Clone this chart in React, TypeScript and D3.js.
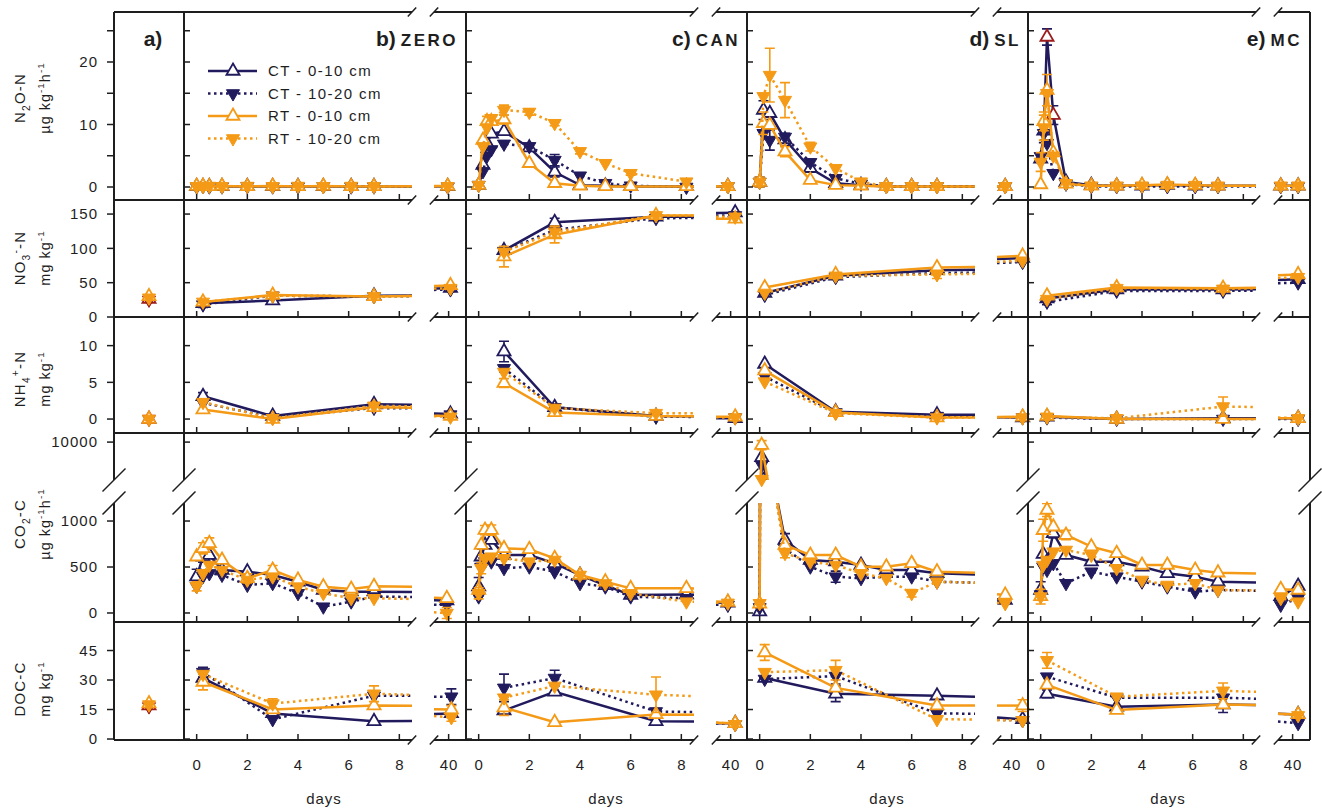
import { useRef, useEffect } from 'react';
import * as d3 from 'd3';

const NAVY = '#211b5e';
const ORANGE = '#f49a16';
const DARK_RED = '#9c1d1d';
const INK = '#1e1e1e';
const FONT = '"Liberation Sans", Arial, Helvetica, sans-serif';

const SERIES = ['CT - 0-10 cm', 'CT - 10-20 cm', 'RT - 0-10 cm', 'RT - 10-20 cm'];
const SERIES_COLOR = [NAVY, NAVY, ORANGE, ORANGE];
const SERIES_OPEN = [true, false, true, false];

const PANEL_NAMES = ['ZERO', 'CAN', 'SL', 'MC'];
const PANEL_LETTERS = ['b)', 'c)', 'd)', 'e)'];
const X_TICKS = [0, 2, 4, 6, 8];
const X_TICKS_LATE = [40];

// ---- N2O-N (µg kg-1 h-1) ----
const N2O_TICKS = [0, 5, 10, 15, 20, 25];
const N2O_LABELS = [0, 10, 20];
const N2O_ZERO_DAYS = [0, 0.25, 0.5, 1, 2, 3, 4, 5, 6.1, 7, 39.9];
const N2O_ZERO = [
  [0.1, 0.1, 0.1, 0.1, 0.1, 0.1, 0.1, 0.1, 0.1, 0.1, 0.1],
  [0.05, 0.1, 0.05, 0.05, 0.1, 0.05, 0.05, 0.1, 0.05, 0.05, 0.05],
  [0.15, 0.15, 0.1, 0.15, 0.1, 0.15, 0.1, 0.15, 0.1, 0.1, 0.15],
  [0.1, 0.1, 0.15, 0.1, 0.15, 0.1, 0.15, 0.1, 0.15, 0.1, 0.1],
];
const N2O_ZERO_ERR = [];
const N2O_CAN_DAYS = [0, 0.17, 0.33, 0.5, 1, 2, 3, 4, 5, 6, 8.2, 39.7];
const N2O_CAN = [
  [0.3, 3.5, 7.0, 8.5, 8.9, 6.3, 2.4, 0.3, 0.2, 0.1, 0.1, 0.1],
  [0.3, 2.5, 5.0, 6.0, 6.9, 6.5, 4.3, 1.8, 0.6, 0.2, 0.0, 0.1],
  [0.3, 7.5, 10.5, 10.5, 10.8, 3.8, 0.6, 0.2, 0.1, 0.1, 0.1, 0.1],
  [0.3, 6.5, 9.5, 11.0, 12.3, 12.0, 10.2, 5.7, 3.8, 2.2, 0.85, 0.1],
];
const N2O_CAN_ERR = [[0, 6, 0.8], [1, 6, 0.9], [2, 2, 0.8], [2, 4, 0.7], [3, 4, 0.8], [3, 5, 0.5], [3, 6, 0.4], [3, 7, 0.4], [3, 9, 0.3]];
const N2O_SL_DAYS = [0, 0.15, 0.4, 1, 2, 3, 4, 5, 6, 7, 39.3];
const N2O_SL = [
  [0.8, 12.3, 11.8, 7.6, 3.0, 0.6, 0.3, 0.1, 0.1, 0.1, 0.1],
  [0.8, 8.6, 7.5, 8.0, 3.95, 1.4, 0.5, 0.1, 0.1, 0.1, 0.1],
  [0.8, 10.2, 9.9, 5.65, 1.1, 0.3, 0.2, 0.1, 0.1, 0.1, 0.1],
  [0.8, 14.5, 17.9, 13.9, 6.45, 3.0, 0.85, 0.1, 0.1, 0.1, 0.1],
];
const N2O_SL_ERR = [[0, 1, 1.5], [0, 3, 1.0], [1, 2, 1.6], [2, 1, 1.8], [2, 3, 0.8], [3, 2, 4.3], [3, 3, 2.8], [3, 4, 0.7], [0, 0, 0.8], [2, 0, 0.8]];
const N2O_MC_DAYS = [0, 0.125, 0.25, 0.5, 1, 2, 3, 4, 5, 6.1, 7, 38.7, 40.6];
const N2O_MC = [
  [4.5, 9.0, 24.0, 11.5, 0.8, 0.3, 0.2, 0.2, 0.3, 0.2, 0.2, 0.2, 0.2],
  [4.9, 8.6, 7.0, 2.2, 0.5, 0.1, 0.1, 0.1, 0.1, 0.1, 0.1, 0.1, 0.1],
  [0.4, 10.5, 15.5, 5.5, 0.5, 0.2, 0.2, 0.3, 0.4, 0.3, 0.2, 0.2, 0.2],
  [4.0, 9.5, 15.0, 5.0, 0.6, 0.2, 0.2, 0.2, 0.3, 0.3, 0.2, 0.2, 0.2],
];
const N2O_MC_ERR = [[0, 2, 1.3], [0, 3, 1.5], [1, 1, 1.5], [2, 1, 1.5], [2, 2, 2.5], [3, 1, 2.0], [3, 0, 1.5]];
const N2O_MC_RED = [2, 3]; // CT 0-10 cm points drawn in dark red

// ---- NO3- -N (mg kg-1) ----
const NO3_TICKS = [0, 50, 100, 150];
const NO3_ZERO_DAYS = [0.25, 3, 7, 40.2];
const NO3_ZERO = [[20, 24, 31, 42], [18, 31, 30, 40], [22, 32, 30, 46], [22, 31, 30, 42]];
const NO3_ZERO_ERR = [[1, 0, 4]];
const NO3_CAN_DAYS = [1, 3, 7, 40.5];
const NO3_CAN = [[97, 138, 146, 152], [96, 127, 144, 148], [88, 120, 148, 143], [95, 124, 148, 146]];
const NO3_CAN_ERR = [[2, 0, 15], [2, 1, 12], [0, 1, 6], [3, 1, 8]];
const NO3_SL_DAYS = [0.2, 3, 7, 41.2];
const NO3_SL = [[35, 60, 68, 86], [32, 58, 64, 80], [43, 62, 72, 89], [35, 60, 62, 82]];
const NO3_SL_ERR = [[3, 2, 6]];
const NO3_MC_DAYS = [0.25, 3, 7.2, 40.6];
const NO3_MC = [[27, 40, 40, 55], [22, 38, 38, 50], [31, 43, 42, 62], [26, 42, 41, 58]];
const NO3_MC_ERR = [[1, 0, 4]];

// ---- NH4+ -N (mg kg-1) ----
const NH4_TICKS = [0, 5, 10];
const NH4_ZERO = [[3.1, 0.4, 2.0, 0.7], [2.2, 0.2, 1.5, 0.6], [1.3, 0.0, 1.6, 0.4], [2.3, 0.1, 1.8, 0.3]];
const NH4_ZERO_ERR = [[0, 0, 0.5]];
const NH4_CAN = [[9.2, 1.6, 0.4, 0.1], [6.9, 1.6, 0.3, 0.2], [4.9, 0.9, 0.4, 0.3], [6.4, 1.5, 0.8, 0.2]];
const NH4_CAN_ERR = [[0, 0, 1.4], [2, 0, 0.6], [1, 0, 0.5]];
const NH4_SL = [[7.5, 1.0, 0.6, 0.2], [5.8, 0.9, 0.4, 0.2], [6.6, 0.9, 0.2, 0.3], [5.1, 0.8, 0.2, 0.2]];
const NH4_SL_ERR = [];
const NH4_MC = [[0.3, 0.0, 0.1, 0.1], [0.2, 0.0, 0.0, 0.0], [0.4, 0.0, 0.0, 0.1], [0.3, 0.1, 1.7, 0.1]];
const NH4_MC_ERR = [[3, 2, 1.3]];

// ---- CO2-C (µg kg-1 h-1), broken axis ----
const CO2_TICKS_LOW = [0, 500, 1000];
const CO2_TICKS_HIGH = [10000];
const CO2_ZERO_DAYS = [0, 0.25, 0.5, 1, 2, 3, 4, 5, 6.1, 7, 39.8];
const CO2_ZERO = [
  [395, 612, 630, 467, 449, 413, 340, 250, 232, 232, 135],
  [290, 400, 430, 413, 304, 323, 214, 68, 123, 178, 87],
  [612, 703, 757, 576, 377, 467, 359, 286, 261, 290, 160],
  [290, 431, 522, 467, 359, 395, 286, 214, 160, 160, 0],
];
const CO2_ZERO_ERR = [[2, 2, 60], [2, 1, 60], [0, 0, 80], [3, 0, 50], [2, 4, 50], [2, 5, 50], [3, 10, 60], [0, 1, 60]];
const CO2_CAN_DAYS = [0, 0.1, 0.25, 0.5, 1, 2, 3, 4, 5, 6, 8.2, 39.7];
const CO2_CAN = [
  [286, 612, 739, 793, 630, 630, 540, 413, 300, 196, 200, 110],
  [178, 500, 560, 558, 486, 503, 449, 323, 286, 178, 160, 87],
  [250, 739, 902, 902, 703, 692, 595, 413, 340, 268, 268, 120],
  [214, 486, 595, 612, 595, 558, 576, 413, 320, 214, 123, 110],
];
const CO2_CAN_ERR = [[2, 3, 55], [2, 2, 50], [0, 0, 100], [3, 0, 60], [3, 1, 60]];
const CO2_SL_DAYS = [0, 0.08, 0.5, 1, 2, 3, 4, 5, 6, 7, 39.3];
const CO2_SL = [
  [14, 8000, 1500, 793, 576, 558, 522, 467, 467, 431, 141],
  [60, 7000, 1500, 700, 503, 395, 377, 395, 395, 340, 120],
  [100, 9600, 1500, 739, 630, 630, 503, 503, 540, 449, 196],
  [105, 5100, 1500, 650, 558, 522, 431, 377, 214, 340, 105],
];
const CO2_SL_ERR = [[2, 1, 600], [0, 3, 70], [1, 5, 60], [3, 3, 50], [3, 8, 40]];
const CO2_MC_DAYS = [0, 0.1, 0.25, 0.5, 1, 2, 3, 4, 5, 6.1, 7, 38.7, 40.6];
const CO2_MC = [
  [250, 640, 560, 866, 630, 558, 558, 503, 431, 395, 340, 180, 293],
  [200, 503, 467, 540, 323, 449, 395, 340, 286, 232, 250, 87, 160],
  [180, 900, 1120, 938, 848, 721, 649, 522, 522, 467, 438, 257, 250],
  [178, 520, 576, 666, 685, 630, 486, 359, 304, 323, 250, 160, 123],
];
const CO2_MC_ERR = [[2, 2, 70], [0, 0, 90], [3, 0, 80], [2, 1, 120], [0, 3, 50], [2, 4, 50]];

// ---- DOC-C (mg kg-1) ----
const DOC_TICKS = [0, 15, 30, 45];
const DOC_ZERO_DAYS = [0.25, 3, 7, 40.3];
const DOC_ZERO = [[31, 13, 9, 13], [34, 10, 22, 21.5], [29, 15, 17, 15], [33, 18, 23, 11]];
const DOC_ZERO_ERR = [[1, 0, 2.5], [2, 0, 4], [3, 1, 2.5], [3, 2, 4], [1, 3, 4], [2, 3, 2], [3, 3, 2]];
const DOC_CAN = [[14.5, 24, 9, 8], [26, 31, 14, 7.5], [16, 8.5, 12.5, 8], [21, 27, 22.5, 7.5]];
const DOC_CAN_ERR = [[1, 0, 7], [2, 0, 4], [1, 1, 4], [3, 2, 9], [0, 2, 2]];
const DOC_SL = [[31, 23, 22, 10], [30.5, 32, 13, 9.5], [44, 26, 17, 17], [34, 35, 10, 9.5]];
const DOC_SL_ERR = [[2, 0, 4], [3, 1, 5], [0, 1, 4], [2, 3, 3], [1, 1, 4]];
const DOC_MC = [[23, 16.4, 17.5, 12.5], [31.7, 21, 21, 8], [27.5, 14.7, 17.5, 12.5], [40, 21.5, 24.5, 12]];
const DOC_MC_ERR = [[3, 0, 4], [0, 0, 2], [3, 2, 4], [0, 2, 4]];

// shared sampling days for the soil extracts
const SOIL_CAN_DAYS = [1, 3, 7, 40.5];
const SOIL_SL_DAYS = [0.2, 3, 7, 41.2];

// ---- a) initial soil ----
const INIT_NO3 = [26, 25, 30, 28];
const INIT_NH4 = [0, 0, 0, 0];
const INIT_DOC = [17, 16.5, 18, 17.5];

const TABLE = {
  N2O: [
    { days: N2O_ZERO_DAYS, vals: N2O_ZERO, err: N2O_ZERO_ERR },
    { days: N2O_CAN_DAYS, vals: N2O_CAN, err: N2O_CAN_ERR },
    { days: N2O_SL_DAYS, vals: N2O_SL, err: N2O_SL_ERR },
    { days: N2O_MC_DAYS, vals: N2O_MC, err: N2O_MC_ERR, red: N2O_MC_RED },
  ],
  NO3: [
    { days: NO3_ZERO_DAYS, vals: NO3_ZERO, err: NO3_ZERO_ERR },
    { days: NO3_CAN_DAYS, vals: NO3_CAN, err: NO3_CAN_ERR },
    { days: NO3_SL_DAYS, vals: NO3_SL, err: NO3_SL_ERR },
    { days: NO3_MC_DAYS, vals: NO3_MC, err: NO3_MC_ERR },
  ],
  NH4: [
    { days: NO3_ZERO_DAYS, vals: NH4_ZERO, err: NH4_ZERO_ERR },
    { days: SOIL_CAN_DAYS, vals: NH4_CAN, err: NH4_CAN_ERR },
    { days: SOIL_SL_DAYS, vals: NH4_SL, err: NH4_SL_ERR },
    { days: NO3_MC_DAYS, vals: NH4_MC, err: NH4_MC_ERR },
  ],
  CO2: [
    { days: CO2_ZERO_DAYS, vals: CO2_ZERO, err: CO2_ZERO_ERR },
    { days: CO2_CAN_DAYS, vals: CO2_CAN, err: CO2_CAN_ERR },
    { days: CO2_SL_DAYS, vals: CO2_SL, err: CO2_SL_ERR },
    { days: CO2_MC_DAYS, vals: CO2_MC, err: CO2_MC_ERR },
  ],
  DOC: [
    { days: DOC_ZERO_DAYS, vals: DOC_ZERO, err: DOC_ZERO_ERR },
    { days: SOIL_CAN_DAYS, vals: DOC_CAN, err: DOC_CAN_ERR },
    { days: SOIL_SL_DAYS, vals: DOC_SL, err: DOC_SL_ERR },
    { days: NO3_MC_DAYS, vals: DOC_MC, err: DOC_MC_ERR },
  ],
};
const INIT = { NO3: INIT_NO3, NH4: INIT_NH4, DOC: INIT_DOC };

// layout
const FRAME_LEFT = 114;
const A_RIGHT = 184;
const PANEL_LEFT = [184, 466, 747, 1028];
const PANEL_W = 282;
const MAIN_W = 228;
const LATE_X0 = 250;
const FRAME_RIGHT = 1310;
const CO2_GAP = [480, 503];
const TITLE_X = 25;
const UNIT_X = 50;

const ROWS = [
  { key: 'N2O', top: 12, bottom: 200, domain: [-2.08, 28], ticks: N2O_TICKS, labels: N2O_LABELS, cy: 98,
    title: [['N', 'n'], ['2', 'sub'], ['O-N', 'n']], unit: [['µg kg', 'n'], ['-1', 'sup'], ['h', 'n'], ['-1', 'sup']] },
  { key: 'NO3', top: 200, bottom: 317, domain: [0, 170.5], ticks: NO3_TICKS, labels: NO3_TICKS, cy: 258,
    title: [['NO', 'n'], ['3', 'sub'], ['-', 'sup'], ['-N', 'n']], unit: [['mg kg', 'n'], ['-1', 'sup']] },
  { key: 'NH4', top: 317, bottom: 433, domain: [-1.9, 13.9], ticks: NH4_TICKS, labels: NH4_TICKS, cy: 379,
    title: [['NH', 'n'], ['4', 'sub'], ['+', 'sup'], ['-N', 'n']], unit: [['mg kg', 'n'], ['-1', 'sup']] },
  { key: 'CO2', top: 433, bottom: 622, cy: 524,
    title: [['CO', 'n'], ['2', 'sub'], ['-C', 'n']], unit: [['µg kg', 'n'], ['-1', 'sup'], ['h', 'n'], ['-1', 'sup']] },
  { key: 'DOC', top: 622, bottom: 740, domain: [-0.5, 59.5], ticks: DOC_TICKS, labels: DOC_TICKS, cy: 689,
    title: [['DOC-C', 'n']], unit: [['mg kg', 'n'], ['-1', 'sup']] },
];

function rowSegments(row) {
  if (row.key === 'CO2') {
    return [
      { scale: d3.scaleLinear().domain([-98, 1196]).range([622, 503]), min: -98, max: 1196, clip: 'clip-co2-lo', ticks: CO2_TICKS_LOW, labels: CO2_TICKS_LOW },
      { scale: d3.scaleLinear().domain([5000, 11200]).range([480, 433]), min: 4800, max: 11200, clip: 'clip-co2-hi', ticks: CO2_TICKS_HIGH, labels: CO2_TICKS_HIGH },
    ];
  }
  return [{ scale: d3.scaleLinear().domain(row.domain).range([row.bottom, row.top]), min: -1e9, max: 1e9, clip: null, ticks: row.ticks, labels: row.labels }];
}

function richText(sel, parts, size) {
  let off = 0;
  parts.forEach(([t, kind]) => {
    const target = kind === 'sub' ? size * 0.3 : kind === 'sup' ? -size * 0.42 : 0;
    sel.append('tspan')
      .attr('dy', target - off)
      .attr('font-size', kind === 'n' ? size : size * 0.68)
      .text(t);
    off = target;
  });
}

function drawMarker(g, x, y, s, color) {
  const path = d3.symbol(d3.symbolTriangle, 74)();
  const m = g.append('path')
    .attr('d', path)
    .attr('transform', `translate(${x},${y})${SERIES_OPEN[s] ? '' : ' rotate(180)'}`);
  if (SERIES_OPEN[s]) {
    m.attr('fill', '#fff').attr('stroke', color).attr('stroke-width', 1.8);
  } else {
    m.attr('fill', color).attr('stroke', color).attr('stroke-width', 1);
  }
}

function styleLine(p, s, color) {
  p.attr('fill', 'none').attr('stroke', color).attr('stroke-width', 2.5);
  if (!SERIES_OPEN[s]) p.attr('stroke-dasharray', '2.5 3.5');
}

function App() {
  const svgRef = useRef(null);

  useEffect(() => {
    const svg = d3.select(svgRef.current);
    svg.selectAll('*').remove();
    svg.attr('font-family', FONT);

    const defs = svg.append('defs');
    defs.append('clipPath').attr('id', 'clip-co2-lo').append('rect')
      .attr('x', 0).attr('width', 1322).attr('y', CO2_GAP[1]).attr('height', 622 - CO2_GAP[1]);
    defs.append('clipPath').attr('id', 'clip-co2-hi').append('rect')
      .attr('x', 0).attr('width', 1322).attr('y', 433).attr('height', CO2_GAP[0] - 433);

    const gData = svg.append('g');
    const gFrame = svg.append('g').attr('stroke', INK).attr('stroke-width', 2).attr('fill', 'none');
    const gText = svg.append('g').attr('fill', INK);

    // data
    ROWS.forEach(row => {
      const segs = rowSegments(row);

      // a) initial soil
      if (INIT[row.key]) {
        const xa = d3.scaleLinear().domain([0, 1]).range([FRAME_LEFT, A_RIGHT]);
        INIT[row.key].forEach((v, s) => {
          const color = s < 2 ? DARK_RED : ORANGE;
          drawMarker(gData, xa(0.5), segs[0].scale(v), s, color);
        });
      }

      PANEL_NAMES.forEach((_, p) => {
        const L = PANEL_LEFT[p];
        const xm = d3.scaleLinear().domain([-0.5, 8.5]).range([L, L + MAIN_W]);
        const xl = d3.scaleLinear().domain([38.4, 41.9]).range([L + LATE_X0, L + PANEL_W]);
        const xOf = d => (d < 20 ? xm(d) : xl(d));
        const set = TABLE[row.key][p];

        for (let s = 0; s < 4; s++) {
          const color = SERIES_COLOR[s];
          const pts = set.days.map((d, i) => ({ d, v: set.vals[s][i], i }));
          const early = pts.filter(q => q.d < 20);
          const late = pts.filter(q => q.d >= 20);
          const paths = [];
          if (early.length && late.length) {
            const a = early[early.length - 1];
            const b = late[0];
            const at = x => a.v + (b.v - a.v) * (x - a.d) / (b.d - a.d);
            paths.push([...early, { d: 8.5, v: at(8.5) }]);
            paths.push([{ d: 38.4, v: at(38.4) }, ...late]);
          } else {
            paths.push(early.length ? early : late);
          }

          segs.forEach(seg => {
            const lg = gData.append('g');
            if (seg.clip) lg.attr('clip-path', `url(#${seg.clip})`);
            const line = d3.line().x(q => xOf(q.d)).y(q => seg.scale(q.v));
            paths.forEach(path => styleLine(lg.append('path').attr('d', line(path)), s, color));
            set.err.filter(e => e[0] === s).forEach(([, i, e]) => {
              const q = pts[i];
              if (q.v < seg.min || q.v > seg.max) return;
              const x = xOf(q.d);
              const yt = seg.scale(q.v + e);
              const yb = seg.scale(q.v - e);
              lg.append('path')
                .attr('d', `M${x},${yt}V${yb}M${x - 5},${yt}H${x + 5}M${x - 5},${yb}H${x + 5}`)
                .attr('stroke', color).attr('stroke-width', 1.6).attr('fill', 'none');
            });
          });

          pts.forEach(q => {
            const seg = segs.find(sg => q.v >= sg.min && q.v <= sg.max);
            if (!seg) return;
            const red = set.red && s === 0 && set.red.includes(q.i);
            drawMarker(gData, xOf(q.d), seg.scale(q.v), s, red ? DARK_RED : color);
          });
        }
      });
    });

    // frame: horizontal boundaries with x-axis breaks
    const HLINES = [12, 200, 317, 433, 622, 740];
    const seg = (x1, y1, x2, y2, w = 2) => gFrame.append('line')
      .attr('x1', x1).attr('y1', y1).attr('x2', x2).attr('y2', y2).attr('stroke-width', w);
    HLINES.forEach(y => {
      seg(FRAME_LEFT, y, A_RIGHT, y);
      PANEL_LEFT.forEach(L => {
        seg(L, y, L + MAIN_W, y);
        seg(L + LATE_X0, y, L + PANEL_W, y);
        [L + MAIN_W, L + LATE_X0].forEach(x => seg(x - 4.2, y + 4.5, x + 4.2, y - 4.5, 1.5));
      });
    });
    // vertical boundaries with CO2 axis break
    [FRAME_LEFT, ...PANEL_LEFT, FRAME_RIGHT].forEach(x => {
      seg(x, 12, x, CO2_GAP[0]);
      seg(x, CO2_GAP[1], x, 740);
      CO2_GAP.forEach(y => seg(x - 11.5, y + 11.5, x + 11.5, y - 11.5, 1.5));
    });

    // ticks and tick labels
    ROWS.forEach(row => {
      const segs = rowSegments(row);
      segs.forEach(sg => {
        sg.ticks.forEach(t => {
          const y = sg.scale(t);
          seg(FRAME_LEFT - 7, y, FRAME_LEFT, y, 1.5);
          PANEL_LEFT.forEach(L => seg(L, y, L + 6, y, 1.5));
        });
        sg.labels.forEach(t => {
          gText.append('text')
            .attr('x', 98).attr('y', sg.scale(t))
            .attr('dy', '0.36em')
            .attr('text-anchor', 'end')
            .attr('font-size', 15)
            .style('letter-spacing', '1px')
            .text(t);
        });
      });
      PANEL_LEFT.forEach(L => {
        const xm = d3.scaleLinear().domain([-0.5, 8.5]).range([L, L + MAIN_W]);
        const xl = d3.scaleLinear().domain([38.4, 41.9]).range([L + LATE_X0, L + PANEL_W]);
        X_TICKS.forEach(t => seg(xm(t), row.bottom, xm(t), row.bottom - 6, 1.5));
        X_TICKS_LATE.forEach(t => seg(xl(t), row.bottom, xl(t), row.bottom - 6, 1.5));
      });

      // row titles
      const title = gText.append('text')
        .attr('transform', `translate(${TITLE_X},${row.cy}) rotate(-90)`)
        .attr('text-anchor', 'middle')
        .style('letter-spacing', '1.2px');
      richText(title, row.title, 15);
      const unit = gText.append('text')
        .attr('transform', `translate(${UNIT_X},${row.cy}) rotate(-90)`)
        .attr('text-anchor', 'middle')
        .style('letter-spacing', '1px');
      richText(unit, row.unit, 14.5);
    });

    // x tick labels and "days"
    PANEL_LEFT.forEach((L, p) => {
      const xm = d3.scaleLinear().domain([-0.5, 8.5]).range([L, L + MAIN_W]);
      const xl = d3.scaleLinear().domain([38.4, 41.9]).range([L + LATE_X0, L + PANEL_W]);
      X_TICKS.forEach(t => gText.append('text')
        .attr('x', xm(t) + 0.5).attr('y', 770).attr('text-anchor', 'middle')
        .attr('font-size', 15).style('letter-spacing', '1px').text(t));
      X_TICKS_LATE.forEach(t => gText.append('text')
        .attr('x', xl(t) + 0.5).attr('y', 770).attr('text-anchor', 'middle')
        .attr('font-size', 15).style('letter-spacing', '1px').text(t));
      gText.append('text')
        .attr('x', L + 140).attr('y', 804).attr('text-anchor', 'middle')
        .attr('font-size', 15).style('letter-spacing', '1px').text('days');

      // panel title
      const t = gText.append('text')
        .attr('x', L + 274).attr('y', 46)
        .attr('text-anchor', 'end')
        .attr('font-weight', 'bold');
      t.append('tspan').attr('font-size', 21).text(PANEL_LETTERS[p]);
      t.append('tspan').attr('font-size', 17).style('letter-spacing', '2.5px').attr('dx', 5).text(PANEL_NAMES[p]);
    });

    gText.append('text')
      .attr('x', 153).attr('y', 46).attr('text-anchor', 'middle')
      .attr('font-size', 21).attr('font-weight', 'bold').text('a)');

    // legend
    const legend = svg.append('g');
    SERIES.forEach((name, s) => {
      const y = 71 + s * 22.5;
      styleLine(legend.append('path').attr('d', `M208,${y}H257`), s, SERIES_COLOR[s]);
      drawMarker(legend, 233, y, s, SERIES_COLOR[s]);
      legend.append('text')
        .attr('x', 268).attr('y', y).attr('dy', '0.36em')
        .attr('font-size', 15).style('letter-spacing', '1.4px').attr('fill', INK)
        .text(name);
    });
  }, []);

  return (
    <svg
      ref={svgRef}
      width={1322}
      height={810}
      style={{ position: 'absolute', left: 0, top: 0, background: '#fff' }}
    />
  );
}

export default App;
